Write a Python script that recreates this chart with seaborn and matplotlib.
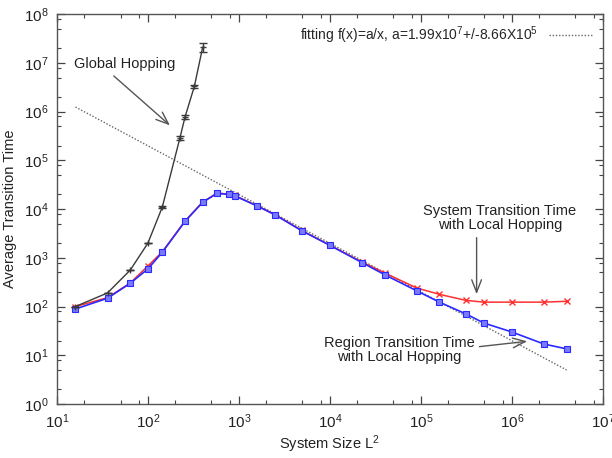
import matplotlib
matplotlib.use('Agg')
import matplotlib.pyplot as plt
import matplotlib.ticker as mticker
import numpy as np
import pandas as pd
import seaborn as sns

# system sizes L^2 for the local hopping runs
size_local = [16, 36, 64, 100, 144, 256, 400, 576, 784, 900, 1600, 2500, 4900,
              10000, 22500, 40000, 90000, 160000, 310000, 490000, 1000000,
              2250000, 4000000]
# region transition time (blue)
region_time = [89, 148, 300, 590, 1300, 5600, 13800, 21000, 20000, 18700, 11500,
               7600, 3600, 1800, 800, 450, 210, 123, 71, 46, 30, 17, 13.5]
# system transition time (red)
system_time = [100, 152, 305, 680, 1330, 5700, 14000, 21300, 20300, 19000, 11600,
               7700, 3650, 1820, 820, 490, 240, 178, 134, 123, 123, 123, 128]

# global hopping (black) with error bars
size_global = [16, 36, 64, 100, 144, 225, 256, 324, 400]
global_time = [100, 190, 560, 2000, 11000, 2.9e5, 7.8e5, 3.3e6, 2.1e7]
global_err = [0, 0, 0, 0, 500, 2.5e4, 6e4, 3e5, 4.2e6]

# fit f(x) = a/x
fit_a = 1.99e7
fit_label = 'fitting f(x)=a/x, a=1.99x10$^7$+/-8.66X10$^5$'

x_major = [1e1, 1e2, 1e3, 1e4, 1e5, 1e6, 1e7]
y_major = [1e0, 1e1, 1e2, 1e3, 1e4, 1e5, 1e6, 1e7, 1e8]

sns.set_style('ticks')
plt.rcParams['font.family'] = ['Liberation Sans', 'DejaVu Sans']
plt.rcParams['mathtext.default'] = 'regular'

fig = plt.figure(figsize=(6.12, 4.58), dpi=100)
ax = fig.add_axes([0.093, 0.118, 0.892, 0.851])

df_local = pd.DataFrame({'size': size_local, 'region': region_time,
                         'system': system_time})
df_local['fit'] = fit_a / df_local['size']

sns.lineplot(data=df_local, x='size', y='fit', ax=ax, color='#666666',
             linestyle=(0, (1, 1.3)), lw=1.0, label=fit_label)
sns.lineplot(data=df_local, x='size', y='system', ax=ax, color='#ff3030',
             lw=1.1, marker='x', markersize=4, markeredgewidth=1.0,
             markeredgecolor='#ff3030', legend=False)
sns.lineplot(data=df_local, x='size', y='region', ax=ax, color='#2a2aff',
             lw=1.2, marker='s', markersize=4, markerfacecolor='#7a7aff',
             markeredgecolor='#2a2aff', markeredgewidth=0.8, legend=False)

ax.errorbar(size_global, global_time, yerr=global_err, color='#3a3a3a', lw=1.0,
            marker='+', markersize=5, capsize=3, elinewidth=0.9)

ax.set_xscale('log')
ax.set_yscale('log')
ax.set_xlim(10, 1e7)
ax.set_ylim(1, 1e8)

ax.xaxis.set_major_locator(mticker.FixedLocator(x_major))
ax.yaxis.set_major_locator(mticker.FixedLocator(y_major))
for axis in (ax.xaxis, ax.yaxis):
    axis.set_major_formatter(mticker.LogFormatterSciNotation())
    axis.set_minor_locator(mticker.LogLocator(base=10, subs=(2, 5, 8), numticks=20))
    axis.set_minor_formatter(mticker.NullFormatter())

ax.tick_params(which='both', direction='in', top=True, right=True,
               colors='#444444', labelcolor='#222222', labelsize=11)
ax.tick_params(which='major', length=6, width=0.9, pad=6)
ax.tick_params(which='minor', length=3, width=0.8)
for s in ax.spines.values():
    s.set_color('#555555')
    s.set_linewidth(1.0)

ax.set_xlabel('System Size L$^2$', fontsize=10.5, color='#222222', labelpad=2)
ax.set_ylabel('Average Transition Time', fontsize=10.5, color='#222222', labelpad=5)

leg = ax.legend(loc='upper right', frameon=False, markerfirst=False,
                fontsize=10, handlelength=3.2, borderaxespad=0.3)

arrow = dict(arrowstyle='->,head_length=0.9,head_width=0.35', color='#555555', lw=1.0)

ax.text(56, 9.4e6, 'Global Hopping', fontsize=10.5, ha='center', va='center',
        color='#222222')
ax.annotate('', xy=(184, 4.8e5), xytext=(40, 5.9e6), arrowprops=arrow)

ax.text(7.4e5, 6600, 'System Transition Time\nwith Local Hopping', fontsize=10.5,
        ha='center', va='center', color='#222222', linespacing=1.05)
ax.annotate('', xy=(4.1e5, 157), xytext=(4.1e5, 2950), arrowprops=arrow)

ax.text(5.8e4, 12.9, 'Region Transition Time\nwith Local Hopping', fontsize=10.5,
        ha='center', va='center', color='#222222', linespacing=1.05)
ax.annotate('', xy=(1.58e6, 19.6), xytext=(4.1e5, 14.8), arrowprops=arrow)

fig.savefig('out.png', dpi=100)
